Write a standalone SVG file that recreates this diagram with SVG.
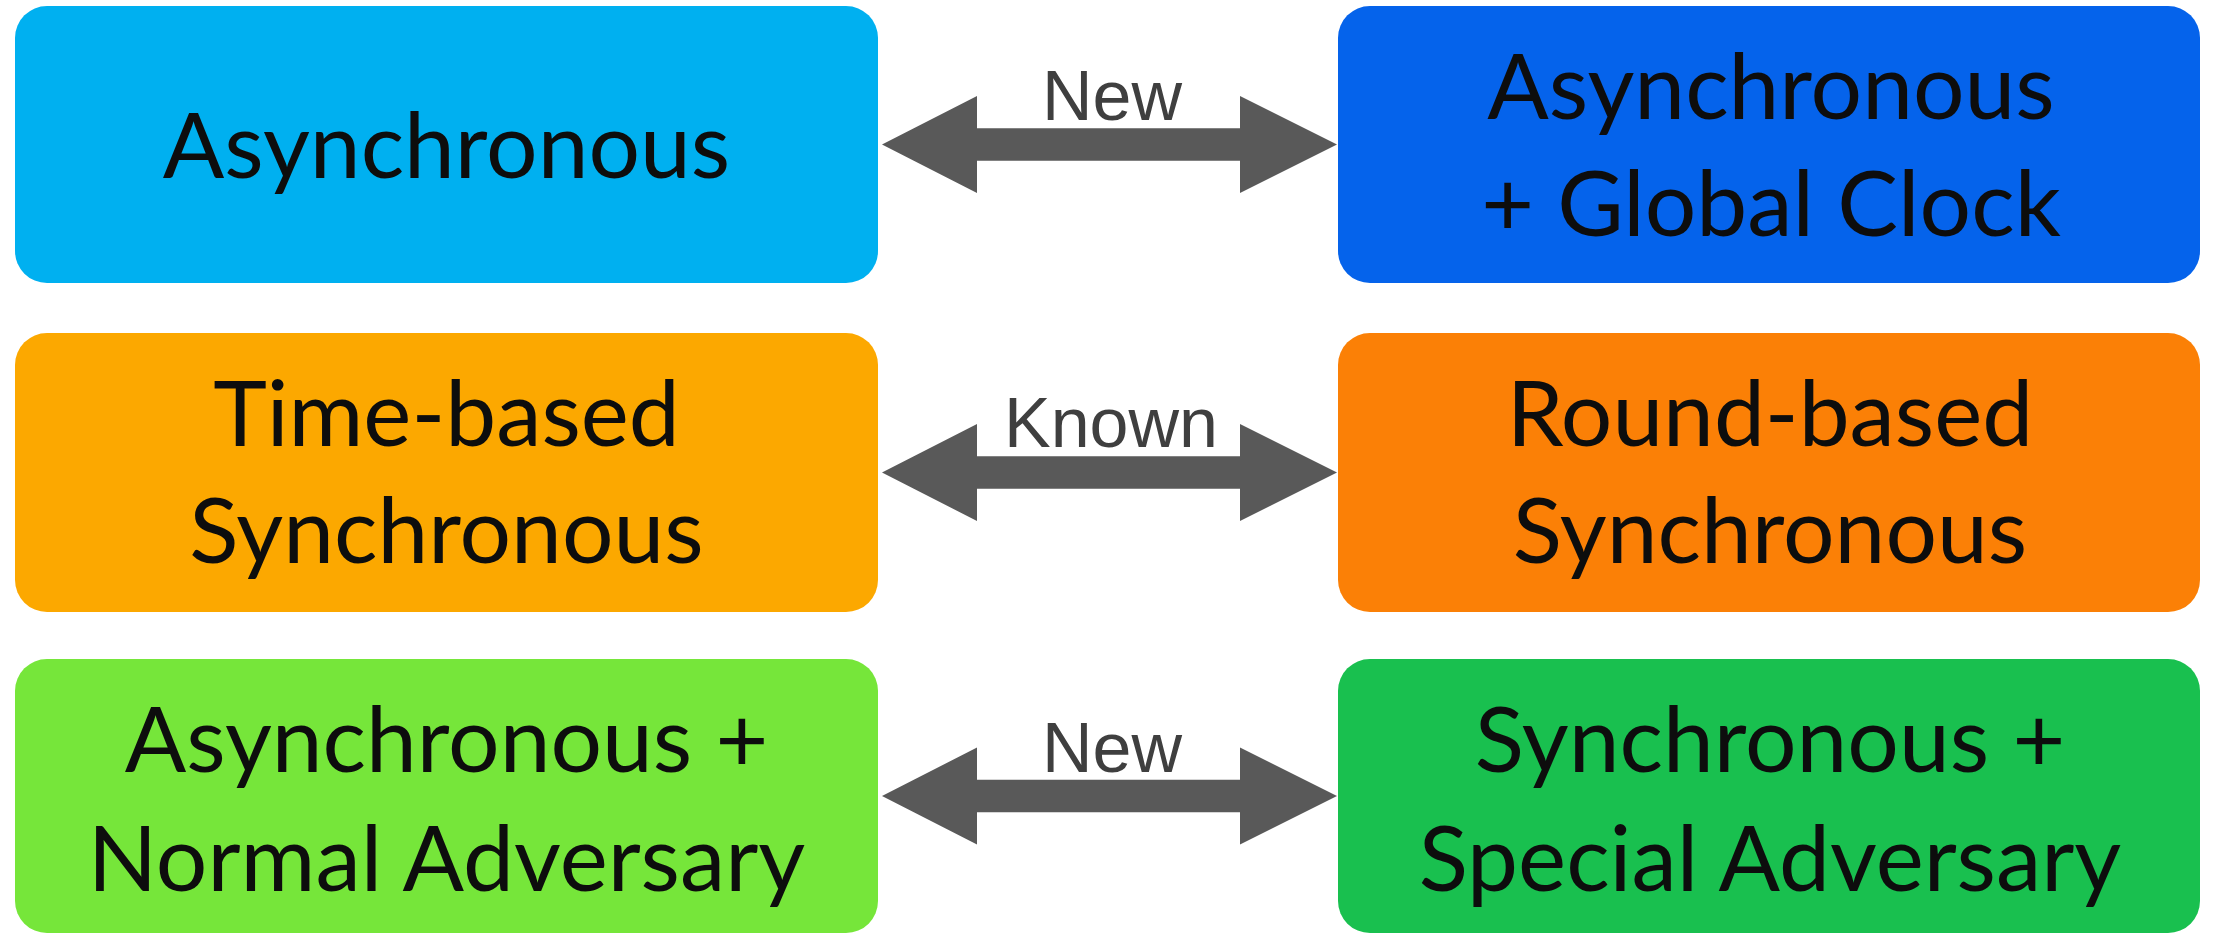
<svg xmlns="http://www.w3.org/2000/svg" xmlns:xlink="http://www.w3.org/1999/xlink" width="2216" height="934" viewBox="0 0 2216 934">
<style>
.box{stroke:none}
.t{font-family:Lato,"Liberation Sans",sans-serif;font-size:91px;fill:#0d0d0d;text-anchor:middle}
.lbl{font-family:"Liberation Sans",Arial,sans-serif;font-size:70px;fill:#3f3f3f;text-anchor:middle}
.arr{fill:#595959}
</style>
<defs>
<path id="dbl" class="arr" d="M882,0 L977,-48.5 L977,-16.3 L1240,-16.3 L1240,-48.5 L1337,0 L1240,48.5 L1240,16.3 L977,16.3 L977,48.5 Z"/>
</defs>
<rect width="2216" height="934" fill="#ffffff"/>
<g id="async">
<rect class="box" x="15" y="6" width="863" height="277" rx="32" fill="#00B0F0"/>
<text class="t" x="446.5" y="178">Asynchronous</text>
</g>
<g id="async-clock">
<rect class="box" x="1338" y="6" width="862" height="277" rx="32" fill="#0563EB"/>
<text class="t" x="1771" y="119">Asynchronous</text>
<text class="t" x="1771" y="236">+ Global Clock</text>
</g>
<g id="time-sync">
<rect class="box" x="15" y="333" width="863" height="279" rx="32" fill="#FCA800"/>
<text class="t" x="446.5" y="446">Time-based</text>
<text class="t" x="446.5" y="563">Synchronous</text>
</g>
<g id="round-sync">
<rect class="box" x="1338" y="333" width="862" height="279" rx="32" fill="#FB8006"/>
<text class="t" x="1770" y="446">Round-based</text>
<text class="t" x="1770" y="563">Synchronous</text>
</g>
<g id="async-normal">
<rect class="box" x="15" y="659" width="863" height="274" rx="32" fill="#76E63A"/>
<text class="t" x="446.5" y="772">Asynchronous +</text>
<text class="t" x="446.5" y="891">Normal Adversary</text>
</g>
<g id="sync-special">
<rect class="box" x="1338" y="659" width="862" height="274" rx="32" fill="#19C04F"/>
<text class="t" x="1770" y="772">Synchronous +</text>
<text class="t" x="1770" y="891">Special Adversary</text>
</g>
<g id="connectors">
<use xlink:href="#dbl" transform="translate(0,144.5)"/>
<text class="lbl" x="1112" y="120">New</text>
<use xlink:href="#dbl" transform="translate(0,472.5)"/>
<text class="lbl" x="1111" y="447">Known</text>
<use xlink:href="#dbl" transform="translate(0,796)"/>
<text class="lbl" x="1112" y="771.5">New</text>
</g>
</svg>
